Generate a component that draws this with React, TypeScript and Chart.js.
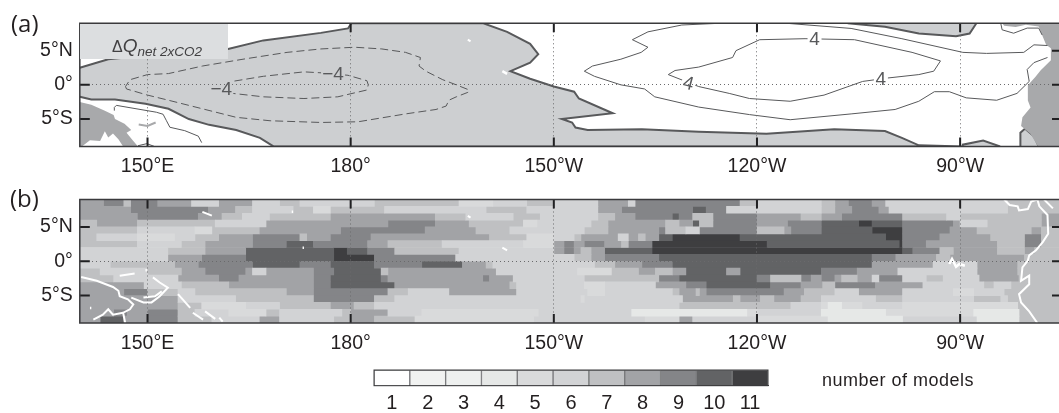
import React, { useEffect, useRef } from "react";
import { Chart, registerables } from "chart.js";

Chart.register(...registerables);

// ---------- axis values ----------
const lonTicks = [150, 180, 210, 240, 270];
const lonLabels = ["150°E", "180°", "150°W", "120°W", "90°W"];
const latTicks = [5, 0, -5];
const latLabels = ["5°N", "0°", "5°S"];
const countLabels = ["1", "2", "3", "4", "5", "6", "7", "8", "9", "10", "11"];
const countColors = ["#ffffff", "#f1f2f1", "#eef0ef", "#e6e8e7", "#d9dadb", "#d2d3d5", "#bfc0c2", "#a2a3a6", "#848588", "#626365", "#3e3e40"];

// ---------- panel (a): [lon, lat] outlines ----------
const coolingRegion = [140,2.5, 144.2,3.75, 152,4.5, 161.9,5.25, 167.1,6.5, 175.6,7.6, 179.6,8.25, 180.1,9, 199.6,9, 203.1,7.75, 206.5,6, 207.7,4.5, 206.5,3.25, 203.6,2, 206.5,0.9, 210,-0.25, 213,-1, 213.7,-2, 218.7,-4.15, 211.2,-5, 212.7,-5.5, 213.2,-6.25, 215,-6.6, 223,-6.5, 231.4,-6.85, 241.4,-7.15, 251.4,-6.5, 258.9,-6.75, 261.4,-7.75, 263.9,-8.85, 270.4,-9, 168.6,-9, 166.6,-7.75, 163.1,-6.6, 159.1,-5.85, 156.1,-5, 153.1,-3.5, 149.7,-2.75, 145.2,-2.15, 141.7,-2.15, 140,-1.75];
const coolingNorthEast = [253.4,9, 258.9,8.5, 263.9,7.5, 269.4,7.1, 271.4,7.5, 272.4,9];
const coolingBump = [270.4,-9, 270.4,-8.75, 273.4,-8.15, 275.9,-9];
const coolingCoast = [278.9,-9, 278.9,-7, 279.6,-6.4, 280.9,-7.5, 281.6,-9];
const landEast = [276.2,9, 276.5,8.65, 278.2,8.45, 279.7,8.8, 281.6,8.55, 282.1,7.3, 282.7,5.85, 283.4,5.35, 283.4,3.6, 281.9,2.15, 281.1,1.15, 280,-0.05, 280,-2.3, 280.4,-3.3, 279.2,-4.75, 279,-6, 280.4,-7.2, 281.5,-9, 285,-9, 285,9];
const landWest = [140,-2.5, 141.7,-2.9, 143.7,-3.8, 145,-4.4, 145.2,-5, 146.6,-5.7, 147.6,-6.6, 146.9,-7, 147.9,-8.2, 148.6,-9, 146.4,-9, 145.7,-7.95, 144.9,-7.1, 144.2,-7.7, 143.7,-6.8, 143,-8.2, 141.5,-8.1, 140.3,-9, 140,-9];
const islandBritain = [148.7,-5.8, 150,-6, 151.2,-5.5];
const dashedOuter = [146.9,-0.6, 146.75,-0.25, 147.4,0.75, 150,1.5, 153.1,1.65, 158.1,2.75, 164.1,3.75, 170.6,4.75, 175.6,5.25, 180.6,5.5, 184.6,5.25, 188.1,4.75, 190.3,4, 190.1,2.75, 191.1,2, 193.6,0.75, 195.6,0, 197.5,-0.75, 197.3,-1.1, 195.6,-1.75, 194.5,-2.25, 194.1,-3.1, 192.6,-3.6, 188.1,-4.25, 181.1,-5.4, 175.6,-5.5, 168.1,-5.25, 163.1,-4.75, 160.1,-4, 156.1,-3, 153.1,-2.25, 150,-1.5, 146.9,-0.6];
const dashedInner = [159.5,-0.6, 162.5,0.5, 167.1,1.25, 173.1,1.9, 175.8,1.75, 179.6,1.4, 182.4,0.6, 182.6,0, 182.4,-0.75, 178.1,-1.75, 173.1,-2, 167.1,-1.75, 162.6,-1.25, 159.5,-0.6];
const solidOuter = [234.4,9, 228.9,8.75, 223.9,7.75, 221.6,6.6, 223.9,5.5, 222.9,4.75, 219.9,3.75, 215.7,2.75, 214.5,2, 216,1.25, 219.9,0, 223.4,-0.6, 224.9,-1.75, 231.4,-3.25, 238.9,-4.35, 244.9,-5.1, 253.9,-4.25, 260.4,-3.6, 263.9,-2.4, 266.2,-1, 268.4,-1, 270.9,-1.9, 275.4,-2.25, 278.4,-1.25, 280.2,0.5, 279.9,2.25, 280.9,3.25, 282.9,4];
const solidTop = [244.4,9, 253.9,8.25, 261.4,6.75, 270.4,4.75, 273.9,4.6, 279.4,4.75, 280.9,5.85, 282.9,5.75];
const solidInner = [226.9,1.5, 231.4,-0.25, 235.9,-1.25, 238.9,-2, 244.9,-2.4, 249.9,-1.5, 255.6,0.5, 259.3,1, 263.9,1.5, 266.1,2, 267.1,3.5, 262.9,4.75, 254.4,6.6, 247.1,6.75, 240.4,6.6, 236.9,5, 236.4,4, 231.4,2.6, 227.9,2.1, 226.9,1.5];
const solidBay = [276,9, 276.2,8.05, 277.9,7.55, 279.9,8.3, 281.6,8.3, 282.1,7.3];
const solidPapua = [145.1,-3.77, 145.1,-3.3, 145.4,-3, 151.3,-4, 152.3,-4.3, 152.8,-5.25, 153.3,-6.2, 155.5,-6.7, 157.5,-7.5, 158,-8.45];
const solidArc = [148.6,-8.9, 149.9,-8.6, 151,-9];
const contourText = ["−4", "−4", "4", "4", "4"];
const contourLon = [160.9, 177.4, 229.9, 248.5, 258.3];
const contourLat = [-0.5, 1.6, 0.25, 6.75, 0.9];
const contourAngle = [0, 0, 15, 0, 0];

// ---------- panel (b): one list per latitude, pairs of [end longitude, number of models] ----------
const rowLats = [8.5, 7.5, 6.5, 5.5, 4.5, 3.5, 2.5, 1.5, 0.5, -0.5, -1.5, -2.5, -3.5, -4.5, -5.5, -6.5, -7.5, -8.5];
const row0 = [143.5,8,146.5,9,147.5,7,151.5,9,156.5,8,160.5,6,165.5,8,169.5,6,172.5,7,183.5,6,196,7,201,5,206,6,210,7,216.5,6,221,8,222,6,237.5,9,240,7,249.5,6,251.5,7,253.5,8,257,9,259,8,277,6,285,7];
const row1 = [147.5,8,159,9,163,8,165.5,7,171.5,6,174.5,7,177,5,185,7,200,6,206,7,216.5,6,220,8,230.5,9,232.5,10,235.5,9,249.5,6,251.5,7,254,8,258,9,259.5,8,277,6,285,7];
const row2 = [148.5,8,157.5,9,161,8,164,7,168,6,177,7,192.5,8,197,7,204,6,208,7,216.5,6,219,7,222,8,227.5,9,228.5,10,230.5,9,233.5,7,240,9,246.5,8,249.5,7,252.5,8,261.5,9,268,7,270,6,282,7,285,8];
const row3 = [142.5,7,148.5,8,160,7,167.5,6,185.5,8,192.5,9,197.5,8,205.5,7,207.5,5,215.5,6,218,7,226.5,8,228.5,7,230.5,8,231.5,10,233.5,7,240,9,244.5,8,249.5,9,255,10,257,11,261.5,10,269,9,270,8,274,6,282,7,285,8];
const row4 = [148.5,7,157,6,159.5,5,166.5,7,178.5,8,191,9,198.5,8,203.5,7,214.5,6,218,7,225.5,8,226.5,9,229.5,7,231.5,6,240,9,244,7,245,8,249.5,9,257,10,261.5,11,268.5,9,272.5,8,280.5,7,282,8,285,7];
const row5 = [142.5,7,148.5,6,154,5,157,6,160.5,7,165.5,8,172.5,9,173.5,7,177,8,183,9,200.5,8,206,7,210,5,213,6,214,7,219.5,8,221,6,222.5,8,223.5,7,225.5,8,227.5,10,237.5,11,259,10,261.5,11,267,9,274.5,8,279.5,7,282,9,285,7];
const row6 = [148.5,7,155,6,158.5,7,165.5,8,170.5,9,174.5,10,182.5,9,185.5,8,193.5,7,205.5,6,210,5,211.5,8,213,9,214.5,8,217.5,9,220,8,221,7,224.5,9,241.5,11,261,10,261.5,11,265,9,275.5,8,279.5,7,282,9,285,7];
const row7 = [153,6,158.5,7,164.5,8,177.5,10,179.5,11,182.5,10,186.5,9,196,7,210,6,211.5,8,213,9,214,8,215.5,7,217.5,8,224.5,10,261.5,11,263,10,267,9,269,7,275.5,8,279.5,7,281,8,285,7];
const row8 = [153,6,158,8,164.5,9,177.5,10,183.5,11,195.5,9,213,6,215.5,7,217.5,8,225.5,9,257,10,260.5,9,266.5,8,268.5,7,279.5,8,285,7];
const row9 = [144.5,6,154,7,157.5,8,165.5,9,172.5,10,177,9,183.5,10,190.5,9,196.5,10,200,8,201,7,216,6,219,7,223,8,227.5,9,257,10,266,8,272.5,6,278.5,8,285,7];
const row10 = [143,7,150,6,155,7,158.5,8,164.5,9,165.5,8,167.5,6,174.5,8,177.5,9,184.5,10,185.5,7,201.5,8,213.5,6,218.5,5,222.5,7,225,8,227.5,7,229.5,8,235.5,10,237.5,8,249.5,10,254.8,9,260.8,8,272.5,6,278.5,8,285,7];
const row11 = [145,7,154.5,6,160.5,8,163.5,9,174.5,8,177,9,184.5,10,185.5,9,199.5,8,200.5,9,204,8,214.5,6,225.5,7,228.5,9,240,10,242,9,246.5,7,248,9,249.5,8,251.5,9,252.5,8,254.8,7,257,8,258,6,261.5,9,265,6,267.5,7,272.8,6,278.7,8,285,7];
const row12 = [149.5,8,155,6,162,7,174.5,8,177,9,186.5,10,203.5,8,204.5,7,214.5,6,217.5,5,225,6,229.5,8,232.5,9,242,10,246.5,9,249.7,8,251.5,7,257.5,9,264.5,8,273.5,6,275,7,277.5,6,285,7];
const row13 = [146.5,8,150,9,154.5,7,157,6,170.5,7,174.5,8,185.5,9,188.5,7,194.5,6,204.5,8,215,6,217.5,5,227.5,6,228.5,7,231,8,231.5,7,232.5,8,244,9,247,8,251.5,7,255,6,261.5,8,269,6,272,5,276.5,6,285,7];
const row14 = [154.5,8,163,6,174.5,7,183.5,9,186.5,7,214,6,214.5,5,229,6,236.5,8,237.5,7,240.5,8,242.5,7,246.5,8,249.5,7,257.5,6,261.5,7,272,6,276,7,277,6,285,7];
const row15 = [154.5,8,158,7,164.5,5,169.5,6,177,7,180.5,8,183.5,7,228.5,6,245,7,249.5,6,250.5,5,252.5,4,255.5,5,261.5,6,278.5,5,285,7];
const row16 = [145,8,147,9,150,8,154.5,9,157,7,162,6,167.5,5,169.5,7,178.7,6,180,7,185.5,8,190.5,6,207.7,5,221.5,6,238.5,4,240,5,249.5,6,259,4,272,5,278.7,4,285,7];
const row17 = [143,8,146.5,10,150,8,154.5,9,159.5,7,166.5,6,169.5,8,177.5,6,179.9,7,183.5,8,189.5,7,207,5,223.5,6,228.5,5,230.5,8,240,6,250.5,5,261.5,4,272.5,6,278.7,4,285,7];
const modelRows = [row0, row1, row2, row3, row4, row5, row6, row7, row8, row9, row10, row11, row12, row13, row14, row15, row16, row17];

// ---------- coastlines and small islands, [lon, lat] ----------
const coastAmerica = [276.5,9, 277.3,8.2, 278.5,8, 278.7,7.4, 280,7.6, 280.5,8.7, 281.4,9, 281.7,8, 282.9,6.75, 283,4, 282.2,2.8, 281.2,1.6, 280.2,0.85, 280,0.1, 279.2,-0.9, 279,-2.85, 280.2,-2.1, 280.2,-3.35, 278.7,-4.8, 279,-6, 280.2,-7.3, 281.4,-9];
const coastPanama = [282.4,9, 283.7,7.7];
const coastGalapagos = [268.4,-0.4, 268.8,0.35, 269.4,-0.8, 269.9,-0.4, 270.7,-0.65];
const coastGuinea = [140.2,-2.3, 142.5,-2.85, 144.9,-3.75, 145.7,-4.3, 145.9,-5.1, 147.1,-5.55, 147.9,-6.3, 147.4,-7, 146.4,-7.5, 146.7,-9];
const coastCape = [142,-8.5, 143.4,-7.8, 144.2,-7, 144.9,-7.8, 146.4,-7.5];
const coastBritain = [147.6,-5.3, 149.4,-6, 150.6,-6, 151.8,-5.1, 153,-3.85, 151.8,-3.1, 150.8,-2.35];
const coastBritainInner = [152.1,-4.4, 151.1,-5.1, 149.4,-5.3];
const coastManus = [145.9,-2.1, 148.1,-1.8];
const coastSolomonA = [154.5,-4.8, 156.3,-6.8];
const coastSolomonB = [156.7,-7.5, 158.2,-8.5];
const coastSolomonC = [158.5,-7.3, 160,-8.4];
const coastSolomonD = [160.6,-8.2, 161.1,-8.8];
const atollA = [158.1,7.2, 159.5,6.65];
const atollB = [197.3,6.6, 197.7,6.35];
const atollC = [202.4,2, 203.1,1.6];
const atollD = [171.3,7.2, 171.5,7.2];
const atollE = [172.9,1.95, 173.1,1.95];
const atollF = [149.7,-1.3, 149.9,-1.3];
const atollG = [141.5,-6.8, 141.7,-6.8];

const FONT = "'Liberation Sans', Arial, sans-serif";
const INK = "#3a3a3c";
const LINE = "#58595b";
const SHADE = "#cdcfd1";
const LAND = "#a8a9ab";

const pts = (flat: number[]) => {
  const out: { x: number; y: number }[] = [];
  for (let i = 0; i < flat.length; i += 2) out.push({ x: flat[i], y: flat[i + 1] });
  return out;
};

const path = (flat: number[], color: string, width: number, dash: number[] = [], fill?: string) => ({
  type: "scatter",
  data: pts(flat),
  showLine: true,
  borderColor: color,
  borderWidth: width,
  borderDash: dash,
  pointRadius: 0,
  tension: 0,
  fill: fill ? "shape" : false,
  backgroundColor: fill || "transparent",
});

const frameAndTicks = {
  id: "frameAndTicks",
  afterDraw(chart: any) {
    const { ctx, chartArea: a, scales } = chart;
    ctx.save();
    ctx.strokeStyle = "#202022";
    ctx.lineWidth = 2;
    ctx.beginPath();
    for (const t of lonTicks) {
      const x = scales.x.getPixelForValue(t);
      ctx.moveTo(x, a.top);
      ctx.lineTo(x, a.top + 9);
      ctx.moveTo(x, a.bottom);
      ctx.lineTo(x, a.bottom - 9);
    }
    for (const t of latTicks) {
      const y = scales.y.getPixelForValue(t);
      ctx.moveTo(a.left, y);
      ctx.lineTo(a.left + 10, y);
      ctx.moveTo(chart.width, y);
      ctx.lineTo(chart.width - 7, y);
    }
    ctx.stroke();
    ctx.strokeStyle = INK;
    ctx.lineWidth = 1.5;
    ctx.beginPath();
    ctx.moveTo(chart.width, a.top);
    ctx.lineTo(a.left, a.top);
    ctx.lineTo(a.left, a.bottom);
    ctx.lineTo(chart.width, a.bottom);
    ctx.stroke();
    ctx.restore();
  },
};

const contourLabels = {
  id: "contourLabels",
  afterDatasetsDraw(chart: any) {
    const { ctx, scales } = chart;
    contourText.forEach((text, i) => {
      const x = scales.x.getPixelForValue(contourLon[i]);
      const y = scales.y.getPixelForValue(contourLat[i]);
      const cooling = text !== "4";
      ctx.save();
      ctx.translate(x, y);
      ctx.rotate((contourAngle[i] * Math.PI) / 180);
      ctx.fillStyle = cooling ? SHADE : "#ffffff";
      ctx.fillRect(cooling ? -12 : -7, -8, cooling ? 24 : 14, 16);
      ctx.fillStyle = LINE;
      ctx.font = `19px ${FONT}`;
      ctx.textAlign = "center";
      ctx.textBaseline = "middle";
      ctx.fillText(text, 0, 1);
      ctx.restore();
    });
  },
};

const mapOptions = (plotTop: number, plotBottom: number, height: number) => ({
  responsive: false,
  animation: false,
  events: [],
  layout: { padding: { left: 0, right: 0, top: plotTop, bottom: 0 } },
  plugins: { legend: { display: false }, tooltip: { enabled: false }, title: { display: false } },
  scales: {
    x: {
      type: "linear",
      offset: false,
      min: 140,
      max: 284.6,
      afterBuildTicks: (s: any) => { s.ticks = lonTicks.map((value) => ({ value })); },
      afterFit: (s: any) => { s.height = height - plotBottom; },
      ticks: {
        autoSkip: false,
        maxRotation: 0,
        padding: 9,
        color: "#231f20",
        font: { family: FONT, size: 19.5 },
        callback: (v: number) => lonLabels[lonTicks.indexOf(v)],
      },
      grid: { z: 1, offset: false, color: "#6a6a6c", lineWidth: 1, drawTicks: false },
      border: { display: false, dash: [1, 3] },
    },
    y: {
      type: "linear",
      offset: false,
      min: -9,
      max: 9,
      afterBuildTicks: (s: any) => { s.ticks = latTicks.map((value) => ({ value })); },
      afterFit: (s: any) => { s.width = 79.8; },
      ticks: {
        autoSkip: false,
        padding: 7,
        color: "#231f20",
        font: { family: FONT, size: 19.5 },
        callback: (v: number) => latLabels[latTicks.indexOf(v)],
      },
      grid: {
        z: 1,
        offset: false,
        drawTicks: false,
        lineWidth: 1,
        color: (c: any) => (c.tick && c.tick.value === 0 ? "#6a6a6c" : "rgba(0,0,0,0)"),
      },
      border: { display: false, dash: [1, 3] },
    },
  },
});

const panelA = [
  path(atollB, "#ffffff", 2),
  path(atollC, "#ffffff", 2.5),
  path(dashedOuter, LINE, 1, [8, 4]),
  path(dashedInner, LINE, 1, [8, 4]),
  path(solidOuter, LINE, 1),
  path(solidTop, LINE, 1),
  path(solidInner, LINE, 1),
  path(solidBay, LINE, 1),
  path(solidPapua, LINE, 1),
  path(solidArc, LINE, 1),
  path(islandBritain, LAND, 2),
  path(landEast, "rgba(0,0,0,0)", 0, [], LAND),
  path(landWest, "rgba(0,0,0,0)", 0, [], LAND),
  path(coolingCoast, LINE, 2, [], SHADE),
  path(coolingBump, LINE, 2, [], SHADE),
  path(coolingNorthEast, LINE, 2, [], SHADE),
  path(coolingRegion, LINE, 2, [], SHADE),
];

const coastSets = [coastAmerica, coastPanama, coastGuinea, coastCape, coastBritain, coastBritainInner, coastManus, coastSolomonA, coastSolomonB, coastSolomonC, coastSolomonD, atollA, atollB, atollC];
const dotSets = [coastGalapagos, atollD, atollE, atollF, atollG];

const buildModelBars = () => {
  const byLevel: { x: number[]; y: number }[][] = countColors.map(() => []);
  modelRows.forEach((row, r) => {
    let start = 140;
    for (let i = 0; i < row.length; i += 2) {
      byLevel[row[i + 1] - 1].push({ x: [start, row[i]], y: rowLats[r] });
      start = row[i];
    }
  });
  return byLevel.map((data, i) => ({
    type: "bar",
    indexAxis: "y",
    label: countLabels[i],
    data,
    backgroundColor: countColors[i],
    borderWidth: 0,
    grouped: false,
    barPercentage: 1,
    categoryPercentage: 1,
  }));
};

const panelB = [
  ...coastSets.map((c) => path(c, "#ffffff", 2)),
  ...dotSets.map((c) => path(c, "#ffffff", 2.5)),
  ...buildModelBars(),
];

const textStyle: React.CSSProperties = { position: "absolute", whiteSpace: "nowrap", fontFamily: FONT, color: "#231f20" };

export default function App() {
  const aRef = useRef<HTMLCanvasElement>(null);
  const bRef = useRef<HTMLCanvasElement>(null);
  const cRef = useRef<HTMLCanvasElement>(null);

  useEffect(() => {
    const a = new Chart(aRef.current as any, {
      type: "scatter",
      data: { datasets: panelA as any },
      options: mapOptions(23.3, 146.4, 180) as any,
      plugins: [contourLabels, frameAndTicks] as any,
    });
    const b = new Chart(bRef.current as any, {
      type: "scatter",
      data: { datasets: panelB as any },
      options: mapOptions(19.5, 143, 176) as any,
      plugins: [frameAndTicks] as any,
    });
    const c = new Chart(cRef.current as any, {
      type: "bar",
      data: {
        labels: countLabels,
        datasets: [{
          data: countLabels.map(() => 1),
          backgroundColor: countColors,
          borderColor: "#77787a",
          borderWidth: 1,
          barPercentage: 1,
          categoryPercentage: 1,
        }],
      },
      options: {
        responsive: false,
        animation: false,
        events: [],
        layout: { padding: { left: 374, right: 291, top: 10, bottom: 0 } },
        plugins: {
          legend: { display: false },
          tooltip: { enabled: false },
        },
        scales: {
          x: {
            afterFit: (s: any) => { s.height = 27.3; },
            ticks: { padding: 6, color: "#231f20", font: { family: FONT, size: 20 }, maxRotation: 0, autoSkip: false },
            grid: { display: false, drawTicks: false },
            border: { display: true, color: INK, width: 1 },
          },
          y: { display: false, min: 0, max: 1 },
        },
      } as any,
      plugins: [{
        id: "barFrame",
        afterDraw(chart: any) {
          const { ctx, chartArea: r } = chart;
          ctx.save();
          ctx.strokeStyle = INK;
          ctx.lineWidth = 1;
          ctx.strokeRect(r.left, r.top, r.right - r.left, r.bottom - r.top);
          ctx.restore();
        },
      }] as any,
    });
    return () => {
      a.destroy();
      b.destroy();
      c.destroy();
    };
  }, []);

  const canvas = (top: number, height: number): React.CSSProperties => ({ position: "absolute", left: 0, top, width: 1059, height });

  return (
    <div style={{ position: "absolute", left: 0, top: 0, width: 1059, height: 413, overflow: "hidden", background: "#fff" }}>
      <canvas ref={aRef} width={1059} height={180} style={canvas(0, 180)} />
      <canvas ref={bRef} width={1059} height={176} style={canvas(180, 176)} />
      <canvas ref={cRef} width={1059} height={53} style={canvas(360, 53)} />
      <div style={{ position: "absolute", left: 80, top: 24, width: 148, height: 35, background: "#dcdee0" }} />
      <div style={{ ...textStyle, left: 112, top: 36, fontSize: 18, lineHeight: "20px", color: "#414042" }}>
        <span style={{ fontSize: 16 }}>Δ</span>
        <i style={{ fontSize: 19 }}>Q</i>
        <i style={{ fontSize: 13.5, position: "relative", top: 4 }}>net 2xCO2</i>
      </div>
      <div style={{ ...textStyle, left: 11, top: 8, fontFamily: "'Open Sans', sans-serif", fontSize: 24, lineHeight: "30px" }}>(a)</div>
      <div style={{ ...textStyle, left: 10, top: 183, fontFamily: "'Open Sans', sans-serif", fontSize: 24, lineHeight: "30px" }}>(b)</div>
      <div style={{ ...textStyle, left: 822, top: 370, fontSize: 18, letterSpacing: 0.5, lineHeight: "20px" }}>number of models</div>
    </div>
  );
}
